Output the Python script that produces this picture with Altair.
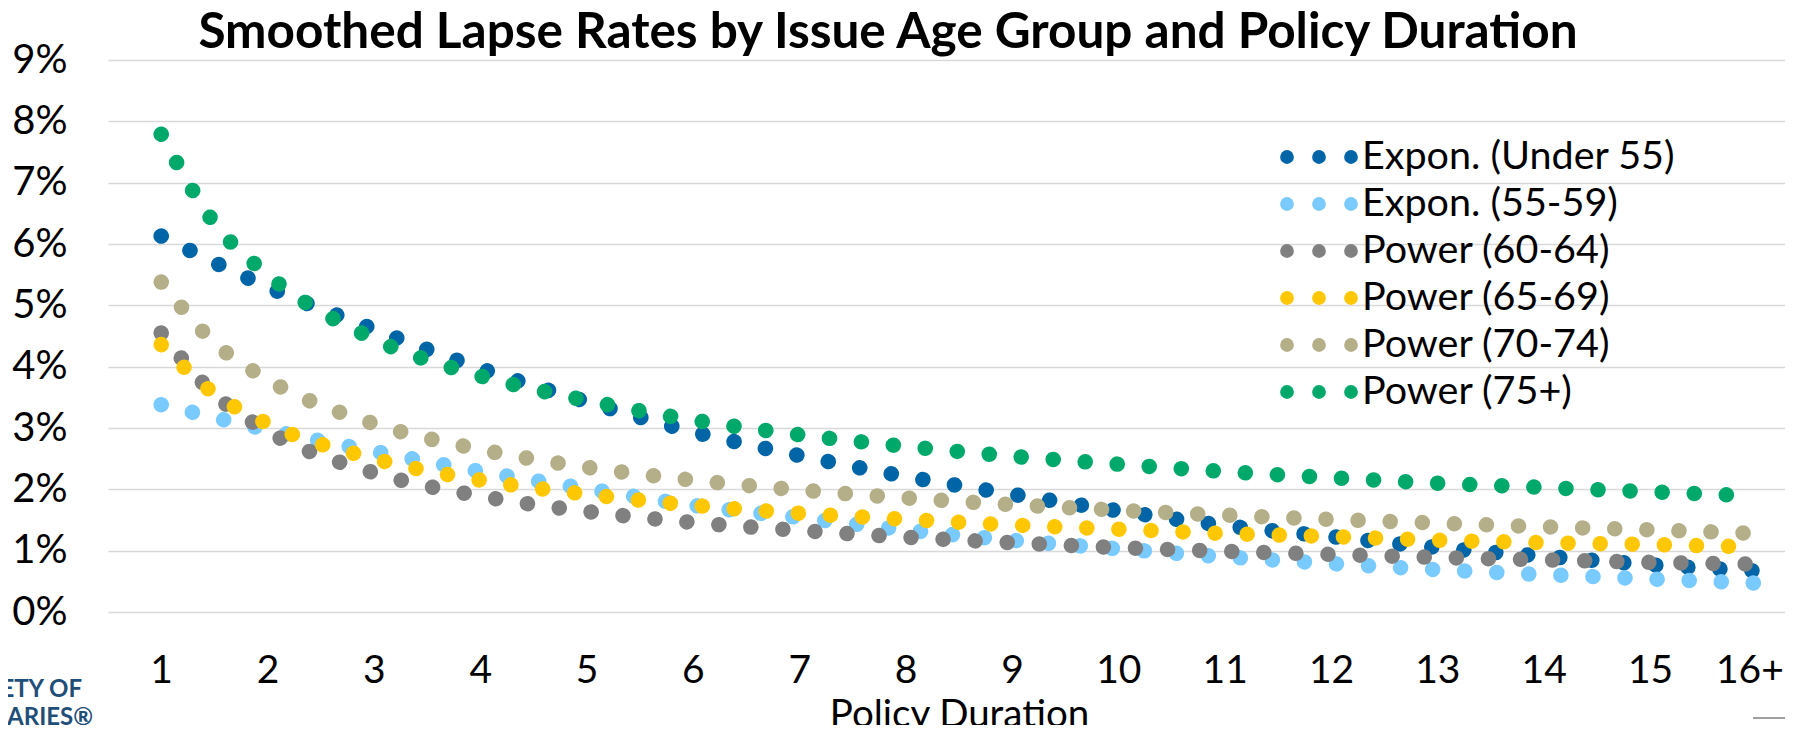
import altair as alt
import pandas as pd

TITLE = "Smoothed Lapse Rates by Issue Age Group and Policy Duration"
X_TITLE = "Policy Duration"
LOGO_LINE1 = "SOCIETY OF"
LOGO_LINE2 = "ACTUARIES®"

SERIES = ["Expon. (Under 55)", "Expon. (55-59)", "Power (60-64)",
          "Power (65-69)", "Power (70-74)", "Power (75+)"]
COLORS = ["#0065A6", "#78CAFF", "#808080", "#FFC700", "#B4AF88", "#00A96A"]

# policy duration (x) at which the trendline values were read
DURATION = [1, 1.5, 2, 3, 4, 5, 6, 7, 8, 9, 10, 11, 12, 13, 14, 15, 16]
TICK_VALUES = list(range(1, 17))
TICK_LABELS = [str(v) for v in range(1, 16)] + ["16+"]
Y_TICKS = list(range(0, 10))

# lapse rates in percent
UNDER_55 = [6.13, 5.70, 5.30, 4.61, 3.97, 3.43, 2.94, 2.55, 2.21, 1.92, 1.65, 1.41, 1.23, 1.05, 0.91, 0.77, 0.67]
AGE_55_59 = [3.38, 3.17, 2.97, 2.62, 2.29, 2.01, 1.74, 1.54, 1.34, 1.17, 1.03, 0.90, 0.79, 0.69, 0.61, 0.54, 0.47]
AGE_60_64 = [4.55, 3.55, 2.95, 2.27, 1.89, 1.64, 1.46, 1.33, 1.22, 1.13, 1.05, 0.99, 0.94, 0.89, 0.85, 0.81, 0.78]
AGE_65_69 = [4.36, 3.56, 3.07, 2.50, 2.15, 1.92, 1.74, 1.61, 1.51, 1.42, 1.35, 1.28, 1.23, 1.17, 1.13, 1.10, 1.06]
AGE_70_74 = [5.38, 4.39, 3.79, 3.07, 2.65, 2.36, 2.15, 1.99, 1.86, 1.75, 1.66, 1.58, 1.51, 1.45, 1.39, 1.34, 1.28]
AGE_75_PLUS = [7.79, 6.34, 5.50, 4.45, 3.85, 3.45, 3.13, 2.89, 2.70, 2.54, 2.41, 2.29, 2.19, 2.10, 2.03, 1.96, 1.89]

VALUES = [UNDER_55, AGE_55_59, AGE_60_64, AGE_65_69, AGE_70_74, AGE_75_PLUS]

rows = []
for name, vals in zip(SERIES, VALUES):
    for d, v in zip(DURATION, vals):
        rows.append({"series": name, "duration": d, "rate": v})
df = pd.DataFrame(rows)

FONT = "Lato"
LABEL_FS = 39
LEGEND_FS = 39.5
TITLE_FS = 38.5

label_expr = "datum.value == 16 ? '" + TICK_LABELS[-1] + "' : datum.label"

x_enc = alt.X("duration:Q",
              scale=alt.Scale(domain=[0.5, 16.269], nice=False, zero=False),
              axis=alt.Axis(values=TICK_VALUES, labelExpr=label_expr, grid=False,
                            ticks=False, tickSize=0, domain=False, labelPadding=39,
                            labelOffset={"condition": {"test": "datum.value == 16", "value": -7},
                                         "value": 0},
                            labelFontSize=LABEL_FS, labelFont=FONT, labelColor="black",
                            labelFlush=False, labelOverlap=False,
                            title=X_TITLE, titleFontSize=TITLE_FS, titleFont=FONT,
                            titleFontWeight="normal", titleColor="black",
                            titleX=851, titleY=114, titleBaseline="alphabetic",
                            titleAlign="center"))
y_enc = alt.Y("rate:Q",
              scale=alt.Scale(domain=[0, 9], nice=False),
              axis=alt.Axis(values=Y_TICKS, labelExpr="datum.value + '%'", title=None,
                            ticks=False, tickSize=0, domain=False, grid=True,
                            gridColor="#D9D9D9", gridWidth=1.5, labelPadding=41,
                            labelFontSize=LABEL_FS + 1, labelFont=FONT, labelColor="black"))
color_enc = alt.Color("series:N", scale=alt.Scale(domain=SERIES, range=COLORS), legend=None)

base = alt.Chart(df)
lines = []
for s in SERIES:
    lines.append(
        base.transform_filter(alt.datum.series == s)
        .mark_line(strokeDash=[0.1, 32], strokeCap="round", strokeWidth=15.5,
                   interpolate="monotone")
        .encode(x=x_enc, y=y_enc, color=color_enc)
    )
lines_layer = alt.layer(*lines)

legend_df = pd.DataFrame({"series": SERIES})
leg_y = alt.Y("series:N", sort=SERIES,
              scale=alt.Scale(type="point", range=[97, 332], padding=0), axis=None)
leg_parts = []
for px in (1179, 1211, 1243):
    leg_parts.append(
        alt.Chart(legend_df).mark_circle(size=190, opacity=1)
        .encode(x=alt.value(px), y=leg_y, color=color_enc)
    )
leg_parts.append(
    alt.Chart(legend_df).mark_text(align="left", baseline="middle", font=FONT,
                                   fontSize=LEGEND_FS, color="black")
    .encode(x=alt.value(1254), y=leg_y, text="series:N")
)
legend_layer = alt.layer(*leg_parts)

title_layer = alt.Chart(pd.DataFrame({"t": [TITLE]})).mark_text(
    align="center", baseline="alphabetic", font=FONT, fontSize=49.5,
    fontWeight="bold", color="black"
).encode(x=alt.value(780), y=alt.value(-12), text="t:N")

logo1 = alt.Chart(pd.DataFrame({"t": [LOGO_LINE1]})).mark_text(
    align="right", baseline="alphabetic", font=FONT, fontSize=24,
    fontWeight="bold", color="#1F4E79"
).encode(x=alt.value(-26), y=alt.value(637), text="t:N")
logo2 = alt.Chart(pd.DataFrame({"t": [LOGO_LINE2]})).mark_text(
    align="right", baseline="alphabetic", font=FONT, fontSize=24,
    fontWeight="bold", color="#1F4E79"
).encode(x=alt.value(-15), y=alt.value(665), text="t:N")

corner_rule = alt.Chart(pd.DataFrame({"t": [0]})).mark_rule(
    color="#404040", strokeWidth=1
).encode(x=alt.value(1645), x2=alt.value(1677), y=alt.value(658))

chart = alt.layer(
    lines_layer, legend_layer, title_layer, logo1, logo2, corner_rule
).resolve_scale(y="independent").properties(
    width=1677, height=552,
    padding={"left": 100, "top": 52, "right": 0, "bottom": 113},
    autosize=alt.AutoSizeParams(type="none"),
    background="white",
).configure_view(stroke=None)

chart.save("out.html", embed_options={"renderer": "svg", "actions": False})
